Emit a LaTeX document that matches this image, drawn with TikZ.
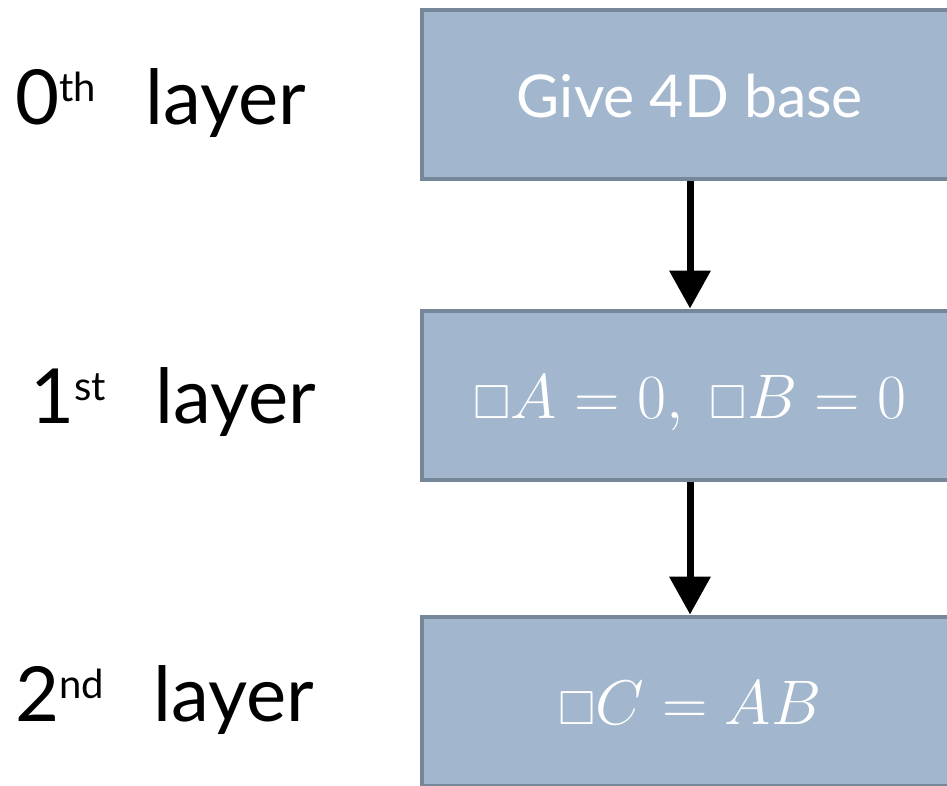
\documentclass[tikz,border=0pt]{standalone}
\usepackage{fix-cm}
\usepackage{fontspec}
\usepackage{amssymb}
\usepackage{graphicx}
\usetikzlibrary{arrows.meta}
\setmainfont{Lato}
\definecolor{boxfill}{HTML}{A2B7CD}
\definecolor{boxline}{HTML}{768799}
\newcommand{\ordsup}[1]{\raisebox{23pt}{\fontsize{40}{44}\selectfont #1}}
\newcommand{\wavebox}{\mathord{\scalebox{0.76}{$\square$}}}
\tikzstyle{layerbox}=[draw=boxline, line width=4pt, fill=boxfill, minimum width=536pt, minimum height=169pt, inner sep=0pt, text height=46pt, text depth=0pt, text=white, font=\fontsize{59}{64}\selectfont]
\tikzstyle{mathbox}=[layerbox, font=\fontsize{63}{68}\selectfont]
\tikzstyle{layerlabel}=[anchor=base west, inner sep=0pt, font=\fontsize{76}{80}\selectfont]
\tikzstyle{flow}=[-{Triangle[width=40pt, length=38pt]}, line width=7pt]

\begin{document}
\begin{tikzpicture}[x=1pt, y=-1pt]
  \useasboundingbox (0,0) rectangle (947,785);
  \node[layerbox] (base) at (690,94) {Give 4D base};
  \node[mathbox] (wave) at (690,395) {$\wavebox A = 0,\ \wavebox B = 0$};
  \node[mathbox] (prod) at (690,701) {$\wavebox C = AB$};
  \node[layerlabel] (zeroth) at (15,124) {0\ordsup{th}\hspace{0.65em}layer};
  \node[layerlabel] (first) at (30,423) {1\ordsup{st}\hspace{0.65em}layer};
  \node[layerlabel] (second) at (15,721) {2\ordsup{nd}\hspace{0.65em}layer};
  \draw[flow] (base) to (wave);
  \draw[flow] (wave) to (prod);
\end{tikzpicture}
\end{document}
